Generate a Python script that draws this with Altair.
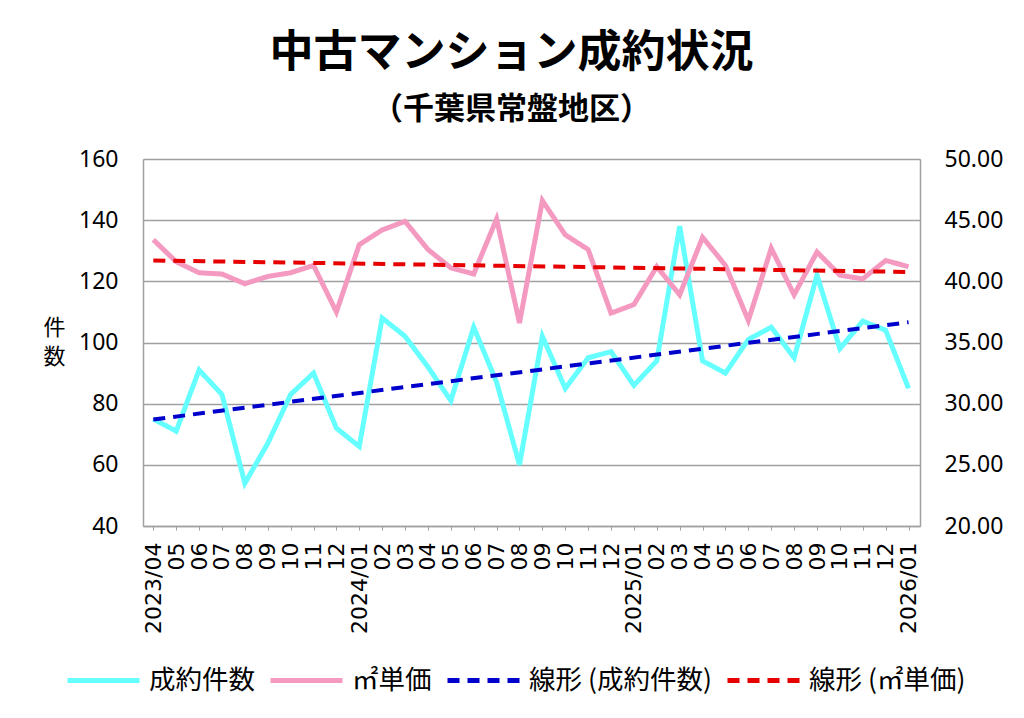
import json
import altair as alt
import pandas as pd

months = ['2023/04', '05', '06', '07', '08', '09', '10', '11', '12',
          '2024/01', '02', '03', '04', '05', '06', '07', '08', '09', '10', '11', '12',
          '2025/01', '02', '03', '04', '05', '06', '07', '08', '09', '10', '11', '12',
          '2026/01']
counts = [75, 71, 91, 83, 54, 67, 83, 90, 72,
          66, 108, 102, 92, 81, 105, 87, 60, 102, 85, 95, 97,
          86, 94, 138, 94, 90, 101, 105, 95, 122, 98, 107, 104,
          85]
prices = [43.4, 41.6, 40.7, 40.6, 39.8, 40.4, 40.7, 41.3, 37.5,
          43.0, 44.2, 44.9, 42.6, 41.1, 40.6, 45.1, 36.6, 46.6, 43.8, 42.6, 37.4,
          38.1, 41.2, 38.9, 43.6, 41.3, 36.8, 42.7, 38.9, 42.4, 40.5, 40.2, 41.7,
          41.2]

series_names = ['成約件数', '㎡単価', '線形 (成約件数)', '線形 (㎡単価)']
series_colors = ['#66FFFF', '#F49AC1', '#0000CC', '#E60000']
series_dashes = [[1, 0], [1, 0], [12, 8], [12, 8]]

df = pd.DataFrame({'idx': list(range(len(months))), 'month': months,
                   'count': counts, 'price': prices})

JP = 'Noto Sans CJK JP'
GRAY = '#a0a0a0'

legend = alt.Legend(orient='none', legendX=-78, legendY=483, direction='horizontal',
                    columns=4, symbolType='stroke', symbolSize=5184, symbolStrokeWidth=5,
                    labelFontSize=26.5, labelFont=JP, labelColor='black', labelOffset=7,
                    columnPadding=5, labelLimit=400, title=None)
color = alt.Color('series:N', scale=alt.Scale(domain=series_names, range=series_colors),
                  legend=legend, title=None)
dash = alt.StrokeDash('series:N', scale=alt.Scale(domain=series_names, range=series_dashes),
                      legend=legend, title=None)

label_expr = json.dumps(months, ensure_ascii=False) + '[datum.value]'
x_enc = alt.X('idx:Q', scale=alt.Scale(domain=[-0.45, 33.5], nice=False, zero=False),
              axis=alt.Axis(values=list(range(len(months))), labelExpr=label_expr,
                            labelAngle=270, title=None, grid=False, ticks=True, tickSize=4,
                            tickColor=GRAY, labelPadding=12, labelFont='DejaVu Sans',
                            labelFontSize=22, labelColor='black', domainColor=GRAY,
                            domainWidth=1.5))

left_scale = alt.Scale(domain=[40, 160], nice=False, zero=False)
right_scale = alt.Scale(domain=[20, 50], nice=False, zero=False)

base = alt.Chart(df)

count_line = base.transform_calculate(series="'成約件数'").mark_line(strokeWidth=5).encode(
    x=x_enc,
    y=alt.Y('count:Q', scale=left_scale,
            axis=alt.Axis(orient='left', values=[40, 60, 80, 100, 120, 140, 160], grid=True,
                          gridColor=GRAY, gridWidth=1.5, ticks=False, labelPadding=25,
                          labelFont='Noto Sans', labelFontSize=23, labelColor='black',
                          domainColor=GRAY, domainWidth=1.5,
                          title=['件', '数'], titleAngle=0, titleX=-89, titleY=158,
                          titleAlign='center', titleBaseline='top', titleFont=JP,
                          titleFontSize=22, titleFontWeight='normal', titleColor='black',
                          titleLineHeight=29)),
    color=color, strokeDash=dash)

price_line = base.transform_calculate(series="'㎡単価'").mark_line(strokeWidth=5).encode(
    x=x_enc,
    y=alt.Y('price:Q', scale=right_scale,
            axis=alt.Axis(orient='right', values=[20, 25, 30, 35, 40, 45, 50], format='.2f',
                          grid=False, ticks=False, labelPadding=24, labelFont='Noto Sans',
                          labelFontSize=23, labelColor='black', domainColor=GRAY,
                          domainWidth=1.5, title=None)),
    color=color, strokeDash=dash)

count_trend = base.transform_regression('idx', 'count', method='linear').transform_calculate(
    series="'線形 (成約件数)'").mark_line(strokeWidth=4).encode(
    x=x_enc,
    y=alt.Y('count:Q', scale=left_scale, axis=None),
    color=color, strokeDash=dash)

price_trend = base.transform_regression('idx', 'price', method='linear').transform_calculate(
    series="'線形 (㎡単価)'").mark_line(strokeWidth=4).encode(
    x=x_enc,
    y=alt.Y('price:Q', scale=right_scale, axis=None),
    color=color, strokeDash=dash)

chart = alt.layer(count_line, price_line, count_trend, price_trend).resolve_scale(
    y='independent'
).properties(
    width=777, height=367,
    autosize=alt.AutoSizeParams(type='none'),
    padding={'left': 135, 'top': 151, 'right': 96, 'bottom': 184},
    title=alt.TitleParams(text='中古マンション成約状況', subtitle='（千葉県常盤地区）',
                          anchor='middle', font=JP, fontSize=44, fontWeight='bold',
                          color='black', subtitleFont=JP, subtitleFontSize=31,
                          subtitleFontWeight='bold', subtitleColor='black',
                          subtitlePadding=19, offset=23, dx=-20)
).configure_view(stroke=None).configure(background='white')

chart.save('out.html', embed_options={'renderer': 'svg', 'actions': False})
